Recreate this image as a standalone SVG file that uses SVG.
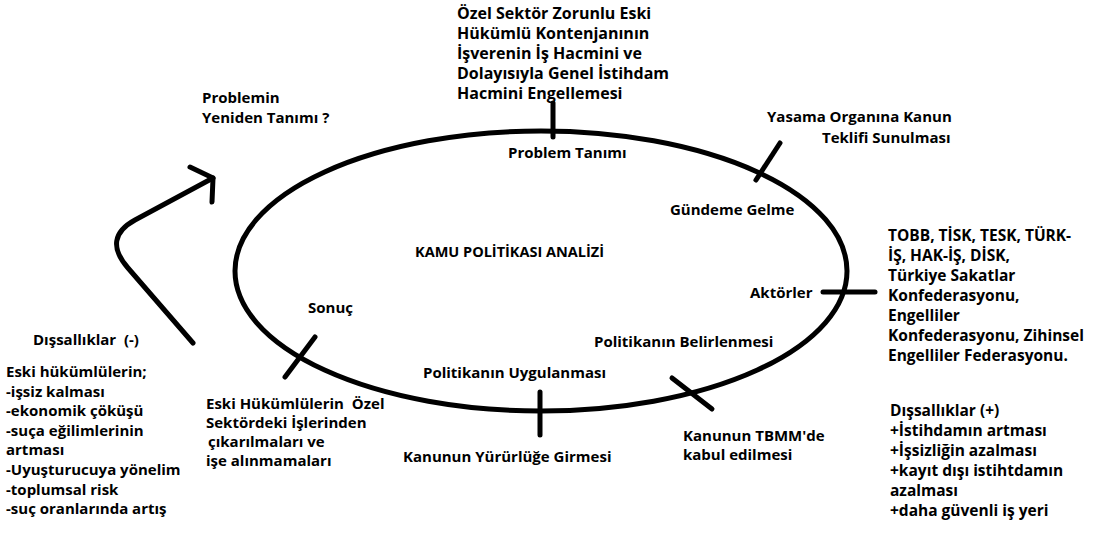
<svg xmlns="http://www.w3.org/2000/svg" width="1094" height="541" viewBox="0 0 1094 541">
<style>
.t{font-family:"Open Sans",Lato,"Liberation Sans",sans-serif;font-weight:bold;font-size:15px;fill:#000}
.s{font-size:14.5px}
.m{font-size:16px}
.r{font-size:15.5px}
.ln{fill:none;stroke:#000;stroke-width:5;stroke-linecap:round;stroke-linejoin:round}
</style>
<rect width="1094" height="541" fill="#fff"/>
<g id="connectors">
<ellipse class="ln" cx="541" cy="271" rx="306" ry="140"/>
<path class="ln" d="M193,343 L128,268 Q102,238 135,220 L213,178"/>
<path class="ln" d="M190,167 L213,178 L212,202"/>
<path class="ln" d="M553,103 L553,137"/>
<path class="ln" d="M780,143 L756,180"/>
<path class="ln" d="M823,292 L875,292"/>
<path class="ln" d="M672,378 L712,409"/>
<path class="ln" d="M540,392 L540,435"/>
<path class="ln" d="M315,337 L285,377"/>
</g>
<g id="center"><text class="t s" x="415" y="257">KAMU POLİTİKASI ANALİZİ</text></g>
<g id="problem-def">
<text class="t m"><tspan x="457" y="19">Özel Sektör Zorunlu Eski</tspan><tspan x="457" y="39">Hükümlü Kontenjanının</tspan><tspan x="457" y="59">İşverenin İş Hacmini ve</tspan><tspan x="457" y="79">Dolayısıyla Genel İstihdam</tspan><tspan x="457" y="99">Hacmini Engellemesi</tspan></text>
</g>
<g id="redefine">
<text class="t"><tspan x="202" y="103">Problemin</tspan><tspan x="202" y="123">Yeniden Tanımı ?</tspan></text>
</g>
<g id="problem"><text class="t" x="508" y="158">Problem Tanımı</text></g>
<g id="yasama">
<text class="t"><tspan x="767" y="122">Yasama Organına Kanun</tspan><tspan x="822" y="143">Teklifi Sunulması</tspan></text>
</g>
<g id="gundem"><text class="t" x="670" y="215">Gündeme Gelme</text></g>
<g id="actors-list">
<text class="t r"><tspan x="888" y="241">TOBB, TİSK, TESK, TÜRK-</tspan><tspan x="888" y="261">İŞ, HAK-İŞ, DİSK,</tspan><tspan x="888" y="281">Türkiye Sakatlar</tspan><tspan x="888" y="301">Konfederasyonu,</tspan><tspan x="888" y="321">Engelliler</tspan><tspan x="888" y="341">Konfederasyonu, Zihinsel</tspan><tspan x="888" y="361">Engelliler Federasyonu.</tspan></text>
</g>
<g id="actors"><text class="t" x="750" y="298">Aktörler</text></g>
<g id="belirleme"><text class="t" x="594" y="347">Politikanın Belirlenmesi</text></g>
<g id="uygulama"><text class="t" x="423" y="378">Politikanın Uygulanması</text></g>
<g id="yururluk"><text class="t" x="403" y="462">Kanunun Yürürlüğe Girmesi</text></g>
<g id="tbmm">
<text class="t"><tspan x="683" y="441">Kanunun TBMM'de</tspan><tspan x="683" y="460">kabul edilmesi</tspan></text>
</g>
<g id="sonuc"><text class="t" x="308" y="313">Sonuç</text></g>
<g id="sonuc-text">
<text class="t" xml:space="preserve"><tspan x="206" y="409">Eski Hükümlülerin  Özel</tspan><tspan x="206" y="428">Sektördeki İşlerinden</tspan><tspan x="208" y="447">çıkarılmaları ve</tspan><tspan x="206" y="466">işe alınmamaları</tspan></text>
</g>
<g id="neg-ext">
<text class="t" x="33" y="345" xml:space="preserve">Dışsallıklar  (-)</text>
<text class="t"><tspan x="6" y="377">Eski hükümlülerin;</tspan><tspan x="6" y="396.6">-işsiz kalması</tspan><tspan x="6" y="416.2">-ekonomik çöküşü</tspan><tspan x="6" y="435.8">-suça eğilimlerinin</tspan><tspan x="6" y="455.4">artması</tspan><tspan x="6" y="475">-Uyuşturucuya yönelim</tspan><tspan x="6" y="494.6">-toplumsal risk</tspan><tspan x="6" y="514.2">-suç oranlarında artış</tspan></text>
</g>
<g id="pos-ext">
<text class="t r"><tspan x="890" y="416">Dışsallıklar (+)</tspan><tspan x="890" y="436">+İstihdamın artması</tspan><tspan x="890" y="456">+İşsizliğin azalması</tspan><tspan x="890" y="476">+kayıt dışı istihtdamın</tspan><tspan x="890" y="496">azalması</tspan><tspan x="890" y="516">+daha güvenli iş yeri</tspan></text>
</g>
</svg>
